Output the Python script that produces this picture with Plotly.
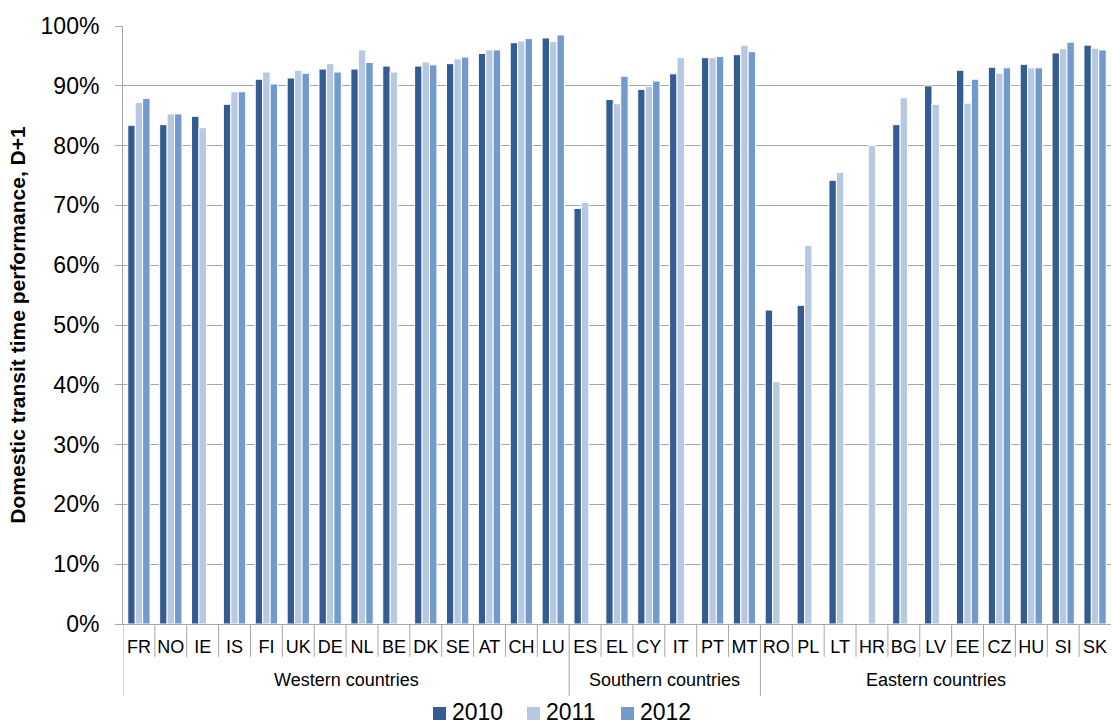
import plotly.graph_objects as go

groups = ["Western countries"] * 14 + ["Southern countries"] * 6 + ["Eastern countries"] * 11
countries = ["FR", "NO", "IE", "IS", "FI", "UK", "DE", "NL", "BE", "DK", "SE", "AT", "CH", "LU",
             "ES", "EL", "CY", "IT", "PT", "MT",
             "RO", "PL", "LT", "HR", "BG", "LV", "EE", "CZ", "HU", "SI", "SK"]

v2010 = [83.4, 83.5, 84.9, 86.9, 91.1, 91.3, 92.8, 92.8, 93.3, 93.3, 93.7, 95.4, 97.2, 98.0,
         69.5, 87.7, 89.4, 92.0, 94.7, 95.2,
         52.5, 53.3, 74.2, None, 83.5, 90.0, 92.6, 93.1, 93.6, 95.5, 96.8]
v2011 = [87.2, 85.3, 83.0, 89.0, 92.3, 92.6, 93.7, 96.0, 92.3, 94.0, 94.5, 96.0, 97.5, 97.4,
         70.5, 87.0, 89.9, 94.7, 94.7, 96.8,
         40.5, 63.3, 75.5, 80.0, 88.0, 86.9, 87.1, 92.1, 93.0, 96.2, 96.3]
v2012 = [87.9, 85.3, None, 89.0, 90.3, 92.1, 92.3, 93.9, None, 93.5, 94.8, 96.0, 97.9, 98.5,
         None, 91.6, 90.8, None, 94.9, 95.7,
         None, None, None, None, None, None, 91.1, 93.0, 93.0, 97.3, 96.0]

series = [("2010", v2010, "#355C91"), ("2011", v2011, "#B7C8E2"), ("2012", v2012, "#729ACD")]

grid = "#A6A6A6"
font_family = "Arial, Liberation Sans, sans-serif"

# layout geometry (pixels)
W, H = 1112, 727
ML, MR, MT, MB = 123, 1, 26, 103
PW, PH = W - ML - MR, H - MT - MB

fig = go.Figure()
for name, vals, col in series:
    fig.add_trace(go.Bar(
        x=countries,
        y=[None if v is None else v / 100 for v in vals],
        name=name, showlegend=False,
        marker=dict(color=col, line=dict(color="white", width=1)),
    ))

n = len(countries)
# separators: short ones between countries, long ones between groups
for i in range(0, n):
    new_group = i == 0 or groups[i] != groups[i - 1]
    fig.add_shape(type="line", xref="x", yref="paper",
                  x0=i - 0.5, x1=i - 0.5, y0=0, y1=-0.12 if new_group else -0.055,
                  line=dict(color=grid, width=1))

# group labels
seen = []
for g in groups:
    if g not in seen:
        seen.append(g)
for g in seen:
    idx = [i for i, gg in enumerate(groups) if gg == g]
    fig.add_annotation(x=(idx[0] + idx[-1]) / 2, xref="x", y=-0.094, yref="paper",
                       text=g, showarrow=False, yanchor="middle", xanchor="center",
                       font=dict(size=18))

# custom legend (bottom)
leg_y_marker = (MT + PH - 713.5) / PH
leg_y_text = (MT + PH - 711.5) / PH
for k, (name, vals, col) in enumerate(series):
    cx = (439.5 + 94 * k - ML) / PW
    fig.add_shape(type="rect", xref="paper", yref="paper",
                  xsizemode="pixel", ysizemode="pixel", xanchor=cx, yanchor=leg_y_marker,
                  x0=-6.5, x1=6.5, y0=-6.5, y1=6.5,
                  fillcolor=col, line=dict(width=0))
    fig.add_annotation(x=cx, xref="paper", xshift=11, y=leg_y_text, yref="paper",
                       text=name, showarrow=False, xanchor="left", yanchor="middle",
                       borderpad=0, font=dict(size=23))

fig.update_layout(
    width=W, height=H,
    barmode="group", bargap=0.3, bargroupgap=0,
    plot_bgcolor="white", paper_bgcolor="white",
    margin=dict(l=ML, r=MR, t=MT, b=MB),
    font=dict(family=font_family, color="black"),
    showlegend=False,
    yaxis=dict(range=[0, 1], tickformat=".0%", dtick=0.1, automargin=False,
               showgrid=True, gridcolor=grid, gridwidth=1,
               ticks="outside", ticklen=7, tickcolor=grid,
               ticklabelstandoff=11,
               showline=True, linecolor=grid, linewidth=1,
               tickfont=dict(size=23),
               title=dict(text="<b>Domestic transit time performance, D+1</b>",
                          font=dict(size=21), standoff=9),
               zeroline=False),
    xaxis=dict(type="category", tickfont=dict(size=18), tickangle=0,
               range=[-0.5, n - 0.5], automargin=False,
               showline=True, linecolor=grid, linewidth=1,
               ticks="", ticklabelstandoff=6),
)

fig.write_html("out.html", config={"displayModeBar": False},
               post_script="document.body.style.margin='0';")
